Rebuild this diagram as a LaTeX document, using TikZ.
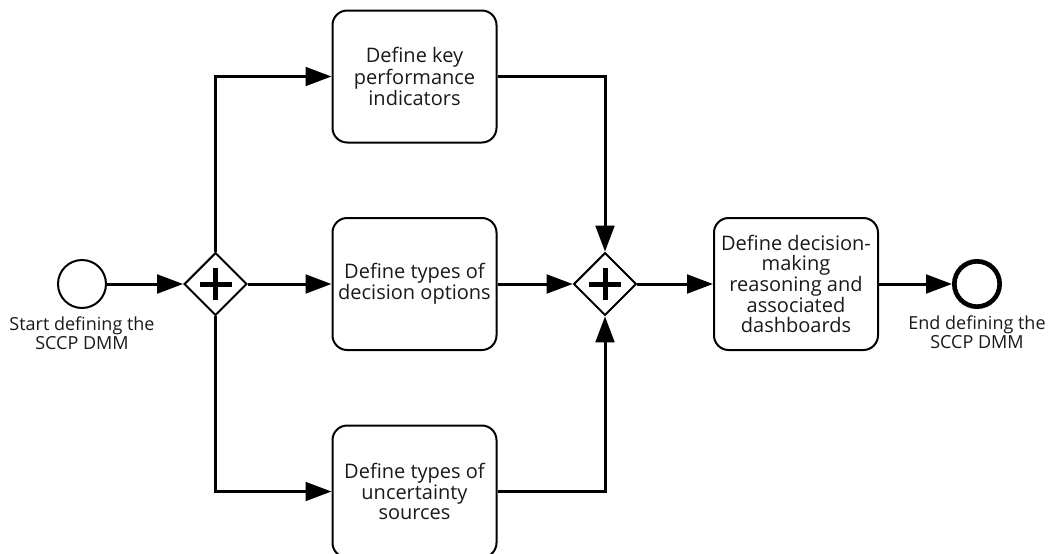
\documentclass[tikz,border=0pt]{standalone}
\usepackage{fontspec}
\setmainfont{Open Sans}
\usetikzlibrary{shapes.geometric,arrows.meta}
\tikzset{
  task/.style={draw, line width=1.5pt, rounded corners=11pt, minimum width=123pt,
    minimum height=99pt, align=center, text=black!90, font=\fontsize{15}{14.6}\selectfont},
  gate/.style={draw, diamond, aspect=1, line width=1.5pt, minimum width=47pt,
    minimum height=47pt, inner sep=0pt},
  startev/.style={draw, circle, line width=1.5pt, minimum size=36pt, inner sep=0pt},
  endev/.style={draw, circle, line width=3.5pt, minimum size=34pt, inner sep=0pt},
  evlabel/.style={align=center, inner sep=0pt, text=black!90,
    font=\fontsize{13.5}{11.5}\selectfont},
  flow/.style={line width=2.25pt, -{Triangle[length=19.5pt,width=14pt]}},
  plus/.style={line width=3.75pt}
}
\begin{document}
\begin{tikzpicture}[x=0.75pt, y=-0.75pt]
\useasboundingbox (0,0) rectangle (1051,554);
% Events
\node[startev] (start) at (82,284) {};
\node[endev] (finish) at (977,284) {};
\node[evlabel] (startlbl) at (82,333) {Start defining the\\SCCP DMM};
\node[evlabel] (finishlbl) at (977,332) {End defining the\\SCCP DMM};
% Gateways
\node[gate] (split) at (215.5,284) {};
\node[gate] (join) at (605,284) {};
\draw[plus] ([xshift=-12pt]split.center) -- ([xshift=12pt]split.center);
\draw[plus] ([yshift=-12pt]split.center) -- ([yshift=12pt]split.center);
\draw[plus] ([xshift=-12pt]join.center) -- ([xshift=12pt]join.center);
\draw[plus] ([yshift=-12pt]join.center) -- ([yshift=12pt]join.center);
% Tasks
\node[task] (kpi) at (414.5,76.5) {Define key\\performance\\indicators};
\node[task] (options) at (414.5,284) {Define types of\\decision options};
\node[task] (uncert) at (414.5,491.5) {Define types of\\uncertainty\\sources};
\node[task] (reason) at (796,284) {Define decision-\\making\\reasoning and\\associated\\dashboards};
% Sequence flows
\draw[flow] (start) -- (split);
\draw[flow] (split.north) |- (kpi.west);
\draw[flow] (split) -- (options);
\draw[flow] (split.south) |- (uncert.west);
\draw[flow] (kpi.east) -| (join.north);
\draw[flow] (options) -- (join);
\draw[flow] (uncert.east) -| (join.south);
\draw[flow] (join) -- (reason);
\draw[flow] (reason) -- (finish);
\end{tikzpicture}
\end{document}
